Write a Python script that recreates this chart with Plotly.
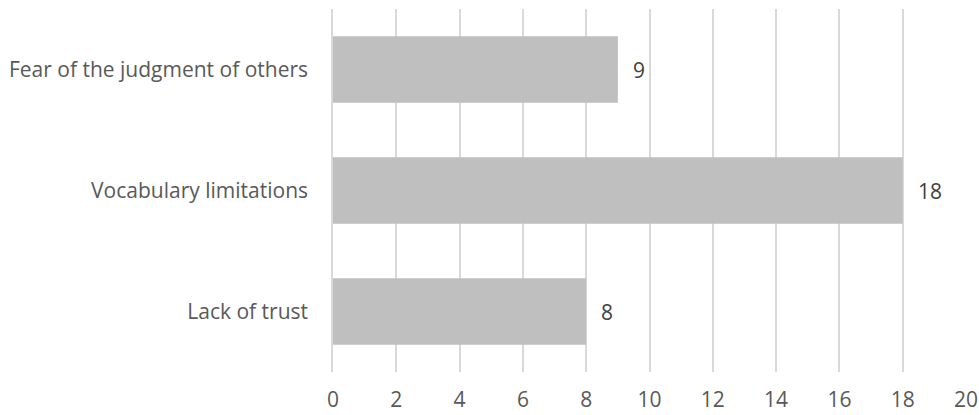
import plotly.graph_objects as go

# Reasons reported, bottom to top
categories = ["Lack of trust", "Vocabulary limitations", "Fear of the judgment of others"]
counts = [8, 18, 9]
x_ticks = [0, 2, 4, 6, 8, 10, 12, 14, 16, 18, 20]

font_family = "Open Sans, Liberation Sans, sans-serif"
text_color = "#595959"
font_size = 21

fig = go.Figure(
    go.Bar(
        y=categories,
        x=counts,
        orientation="h",
        marker=dict(color="#bfbfbf", line=dict(width=0)),
        hoverinfo="x+y",
    )
)

# value labels just past the end of each bar
for cat, val in zip(categories, counts):
    fig.add_annotation(
        x=val,
        y=cat,
        text=str(val),
        showarrow=False,
        xanchor="left",
        xshift=13,
        font=dict(family=font_family, size=font_size, color="#404040"),
    )

fig.update_layout(
    width=979,
    height=415,
    margin=dict(l=333, r=13, t=9, b=43),
    paper_bgcolor="white",
    plot_bgcolor="white",
    bargap=0.45,
    showlegend=False,
    font=dict(family=font_family, size=font_size, color=text_color),
)

fig.update_xaxes(
    range=[0, 20],
    tickvals=x_ticks,
    ticktext=[str(t) for t in x_ticks],
    showgrid=True,
    gridcolor="#d9d9d9",
    gridwidth=1.5,
    zeroline=False,
    showline=False,
    ticks="",
    ticklen=0,
    ticklabelstandoff=13,
    automargin=False,
    tickfont=dict(size=font_size, color=text_color),
)

fig.update_yaxes(
    showgrid=False,
    zeroline=False,
    showline=True,
    linecolor="#d9d9d9",
    linewidth=1.5,
    ticks="",
    ticklabelstandoff=19,
    automargin=False,
    tickfont=dict(size=font_size, color=text_color),
)

fig.write_html("out.html")
